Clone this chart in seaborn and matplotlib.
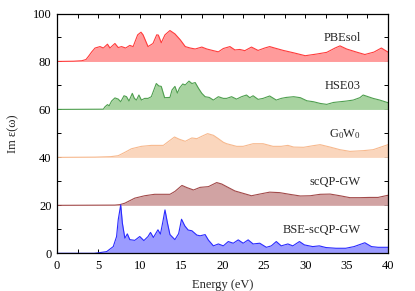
import matplotlib
matplotlib.use('Agg')
import matplotlib.pyplot as plt
from matplotlib.ticker import MultipleLocator
import seaborn as sns
import numpy as np

# spectra; each stacked on its own baseline
pbesol_e = [0, 2.0, 3.0, 3.5, 3.8, 4.2, 4.6, 5.2, 5.6, 6.1, 6.4, 7.0, 7.4, 7.8, 8.3, 8.8, 9.2, 9.75, 10.15, 10.4,
            11.0, 11.6, 12.05, 12.25, 12.6, 13.05, 13.65, 14.25, 14.9, 15.5, 16.1, 16.7, 17.5, 18.1, 18.9, 19.5,
            20.1, 20.9, 21.5, 22.1, 22.7, 23.5, 24.3, 25.1, 25.7, 26.3, 27.35, 28.6, 30.0, 31.4, 32.6, 33.6,
            34.2, 35.0, 36.2, 37.2, 38.3, 39.2, 40.0]
pbesol_im = [0, 0.1, 0.3, 0.8, 2.1, 4.0, 5.6, 6.2, 5.6, 7.2, 5.6, 7.5, 5.8, 6.2, 5.6, 6.7, 6.2, 11.1, 12.2, 11.1,
             6.2, 7.5, 11.1, 11.0, 7.8, 11.1, 12.9, 11.5, 9.0, 6.2, 5.6, 5.2, 6.0, 5.2, 4.5, 4.0,
             5.4, 6.2, 4.8, 5.0, 4.5, 6.0, 4.6, 5.6, 6.2, 5.6, 4.6, 3.6, 2.4, 3.1, 3.8, 5.6,
             6.5, 5.2, 3.9, 2.9, 3.9, 5.6, 3.9]

hse_e = [0, 5.6, 5.8, 6.1, 6.3, 6.6, 7.0, 7.4, 7.7, 8.1, 8.4, 8.7, 9.1, 9.35, 9.6, 9.9, 10.2, 10.6, 11.0, 11.4,
         12.0, 12.3, 12.6, 13.0, 13.65, 13.9, 14.25, 14.55, 14.8, 15.2, 15.5, 15.95, 16.3, 16.7, 17.1, 17.5,
         17.9, 18.4, 18.9, 19.5, 20.1, 20.5, 21.1, 21.7, 22.3, 22.9, 23.3, 23.7, 24.3, 24.9, 25.7, 26.5, 27.1,
         27.7, 28.6, 29.4, 30.2, 31.0, 31.8, 32.6, 33.4, 34.2, 35.0, 35.8, 36.6, 37.0, 37.6, 38.2, 39.0, 40.0]
hse_im = [0, 0.1, 1.1, 2.0, 1.5, 3.5, 4.8, 4.3, 3.2, 5.7, 5.3, 3.5, 6.7, 4.6, 3.9, 6.0, 3.9, 4.6, 4.6, 5.3,
          10.8, 9.8, 9.6, 4.9, 5.0, 8.1, 9.6, 6.8, 8.9, 10.6, 10.2, 11.8, 10.8, 11.2, 8.8, 6.7,
          5.3, 5.0, 3.9, 5.3, 4.6, 4.6, 5.3, 4.3, 5.3, 6.0, 4.9, 5.7, 4.2, 4.6, 5.6, 3.9, 4.6,
          5.0, 5.3, 4.9, 3.6, 3.2, 2.5, 2.1, 2.9, 3.2, 3.5, 3.9, 4.9, 6.0, 5.3, 4.6, 3.9, 2.8]

g0w0_e = [0, 4.6, 6.5, 7.4, 8.2, 9.0, 10.2, 11.4, 12.85, 13.5, 14.2, 14.75, 15.5, 16.3, 16.9, 17.5, 18.2,
          18.9, 19.5, 20.1, 20.5, 21.7, 22.5, 23.7, 24.9, 26.1, 27.1, 27.9, 28.6, 29.8, 31.0, 31.8, 33.0,
          34.2, 35.4, 37.0, 38.2, 39.4, 40.0]
g0w0_im = [0, 0.1, 0.3, 0.7, 2.1, 3.6, 4.6, 5.0, 5.0, 6.7, 8.5, 7.6, 6.7, 8.1, 7.8, 8.8, 9.9,
           9.2, 7.8, 6.3, 5.7, 4.6, 4.6, 5.7, 5.7, 4.6, 4.6, 5.0, 4.3, 4.2, 4.9, 5.3, 4.3,
           3.2, 2.5, 2.8, 3.2, 4.6, 5.3]

scqp_e = [0, 7.0, 7.6, 8.2, 9.4, 10.6, 11.8, 13.65, 14.25, 15.1, 15.7, 16.5, 17.3, 18.3, 19.3, 19.9, 20.5,
          21.5, 22.5, 23.5, 24.5, 25.7, 26.9, 28.1, 29.4, 30.6, 31.8, 33.0, 34.2, 35.4, 36.6, 37.8, 38.8, 40.0]
scqp_im = [0, 0.1, 0.3, 0.9, 3.0, 4.0, 4.6, 4.6, 5.8, 8.3, 7.4, 6.4, 7.5, 7.8, 9.5, 8.9, 7.8,
           6.0, 5.0, 4.0, 4.7, 5.5, 5.3, 4.6, 3.9, 4.0, 4.6, 4.7, 4.0, 3.2, 3.2, 3.3, 3.3, 4.2]

bse_e = [0, 4.5, 5.0, 6.0, 6.8, 7.2, 7.4, 7.7, 7.9, 8.2, 8.5, 8.8, 9.4, 10.0, 10.5, 11.0, 11.3, 11.65, 12.2,
         12.5, 12.8, 13.05, 13.35, 13.65, 14.25, 14.7, 15.05, 15.45, 15.85, 16.3, 16.9, 17.3, 17.9, 18.3,
         18.9, 19.5, 20.1, 20.7, 21.3, 21.9, 22.5, 23.1, 23.7, 24.5, 25.3, 25.9, 26.5, 27.1, 27.9, 28.5,
         29.3, 29.9, 30.9, 31.7, 32.5, 33.7, 34.9, 35.9, 37.2, 38.0, 38.8, 40.0]
bse_im = [0, 0.0, 0.2, 0.7, 2.8, 7.0, 14.0, 20.2, 12.6, 6.3, 8.1, 5.7, 5.4, 7.0, 5.3, 7.0, 8.7, 6.6, 9.8,
          8.0, 13.3, 18.1, 12.6, 7.8, 5.7, 8.2, 14.2, 11.4, 9.7, 9.4, 7.6, 7.3, 7.8, 5.5,
          3.1, 3.9, 3.1, 4.9, 4.2, 5.6, 4.2, 5.6, 3.9, 4.2, 2.5, 3.1, 4.9, 3.1, 3.9, 3.1,
          4.9, 3.5, 2.8, 3.1, 2.4, 2.1, 2.1, 2.8, 4.4, 2.8, 2.5, 2.5]

labels = ['PBEsol', 'HSE03', r'G$_\mathrm{0}$W$_\mathrm{0}$', 'scQP-GW', 'BSE-scQP-GW']
offsets = [80, 60, 40, 20, 0]
line_colors = ['#ff3b3b', '#4f9f4f', '#f7b98e', '#a24a4a', '#2a2aff']
fill_colors = ['#ff9b9b', '#a8d3a0', '#fad6bd', '#d1a3a3', '#9b9bff']
curves = [(pbesol_e, pbesol_im), (hse_e, hse_im), (g0w0_e, g0w0_im), (scqp_e, scqp_im), (bse_e, bse_im)]

sns.set_theme(style='ticks')
plt.rcParams['font.family'] = ['Liberation Serif', 'DejaVu Serif']
plt.rcParams['mathtext.fontset'] = 'custom'
plt.rcParams['mathtext.rm'] = 'Liberation Serif'
plt.rcParams['mathtext.it'] = 'Liberation Serif:italic'

fig = plt.figure(figsize=(4.15, 2.91), dpi=100)
ax = fig.add_axes([57 / 415, 1 - 253.3 / 291, 331 / 415, 239.8 / 291])

for (e, im), off, lc, fc, lab in zip(curves, offsets, line_colors, fill_colors, labels):
    y = np.array(im) + off
    ax.fill_between(e, off, y, color=fc, lw=0)
    sns.lineplot(x=e, y=y, color=lc, lw=0.8, ax=ax, sort=False)
    ax.text(36.7, off + 9.8, lab, ha='right', va='center', fontsize=9)

ax.set_xlim(0, 40)
ax.set_ylim(0, 100)
ax.xaxis.set_major_locator(MultipleLocator(5))
ax.xaxis.set_minor_locator(MultipleLocator(2.5))
ax.yaxis.set_major_locator(MultipleLocator(20))
ax.yaxis.set_minor_locator(MultipleLocator(10))
ax.tick_params(which='both', direction='in', top=True, right=True, length=3, width=0.7,
               labelsize=9, color='black', labelcolor='black')
ax.tick_params(axis='x', pad=5)
ax.tick_params(axis='y', pad=4)
for s in ax.spines.values():
    s.set_linewidth(0.9)
    s.set_color('black')
ax.set_xlabel('Energy (eV)', fontsize=9, labelpad=5)
ax.set_ylabel('Im ε(ω)', fontsize=9, labelpad=10)

fig.savefig('out.png', dpi=100)
